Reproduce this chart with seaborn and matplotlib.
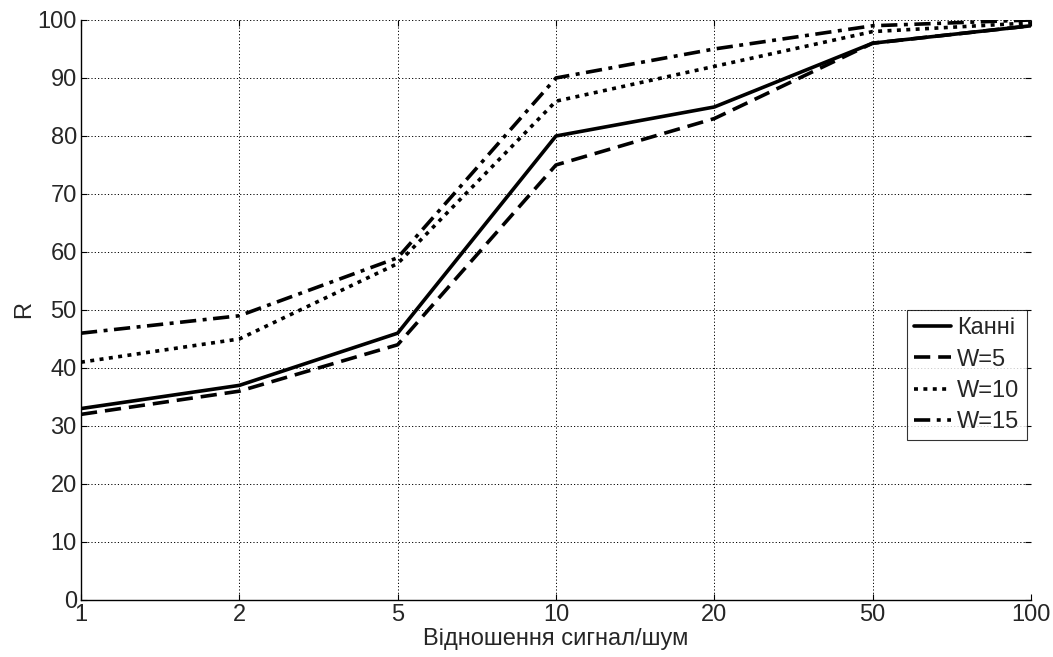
import numpy as np
import pandas as pd
import matplotlib
matplotlib.use("Agg")
import matplotlib.pyplot as plt
import seaborn as sns

# Data
snr_labels = ["1", "2", "5", "10", "20", "50", "100"]
kanni = [33, 37, 46, 80, 85, 96, 99]
w5 = [32, 36, 44, 75, 83, 96, 99]
w10 = [41, 45, 58, 86, 92, 98, 99.5]
w15 = [46, 49, 59, 90, 95, 99, 100]
series_names = ["Канні", "W=5", "W=10", "W=15"]

# Build long-form table
rows = []
for name, vals in zip(series_names, [kanni, w5, w10, w15]):
    for i, v in enumerate(vals):
        rows.append({"pos": i, "R": v, "series": name})
df = pd.DataFrame(rows)

sns.set_style("white")
plt.rcParams["font.family"] = ["Liberation Sans", "DejaVu Sans"]

fig = plt.figure(figsize=(10.53, 6.57), dpi=100)
ax = fig.add_axes([0.0769, 0.0868, 0.9022, 0.8828])

dashes = {
    "Канні": "",
    "W=5": (4.5, 2.2),
    "W=10": (1.1, 1.5),
    "W=15": (4.5, 1.8, 1.1, 1.8),
}
sns.lineplot(data=df, x="pos", y="R", hue="series", style="series",
             palette=["black"] * 4, dashes=dashes, linewidth=2.6,
             ax=ax, legend=True)

ax.set_xlim(0, len(snr_labels) - 1)
ax.set_ylim(0, 100)
ax.set_xticks(range(len(snr_labels)))
ax.set_xticklabels(snr_labels)
ax.set_yticks(range(0, 101, 10))
ax.tick_params(axis="both", labelsize=17, direction="in", length=4, color="black",
               pad=3, top=True, right=True, bottom=True, left=True)
ax.grid(True, color="black", linestyle=(0, (1.2, 2.2)), linewidth=0.7)
for s in ax.spines.values():
    s.set_color("black")
    s.set_linewidth(1.0)
ax.spines["top"].set_visible(False)
ax.spines["right"].set_visible(False)

ax.set_xlabel("Відношення сигнал/шум", fontsize=17, labelpad=1)
ax.set_ylabel("R", fontsize=17, labelpad=2)

leg = ax.legend(loc="upper left", bbox_to_anchor=(0.869, 0.5), fontsize=17,
                frameon=True, fancybox=False, handlelength=1.6, handletextpad=0.25,
                borderpad=0.3, labelspacing=0.4, borderaxespad=0)
leg.get_frame().set_edgecolor("black")
leg.get_frame().set_linewidth(0.8)

fig.savefig("out.png", dpi=100)
